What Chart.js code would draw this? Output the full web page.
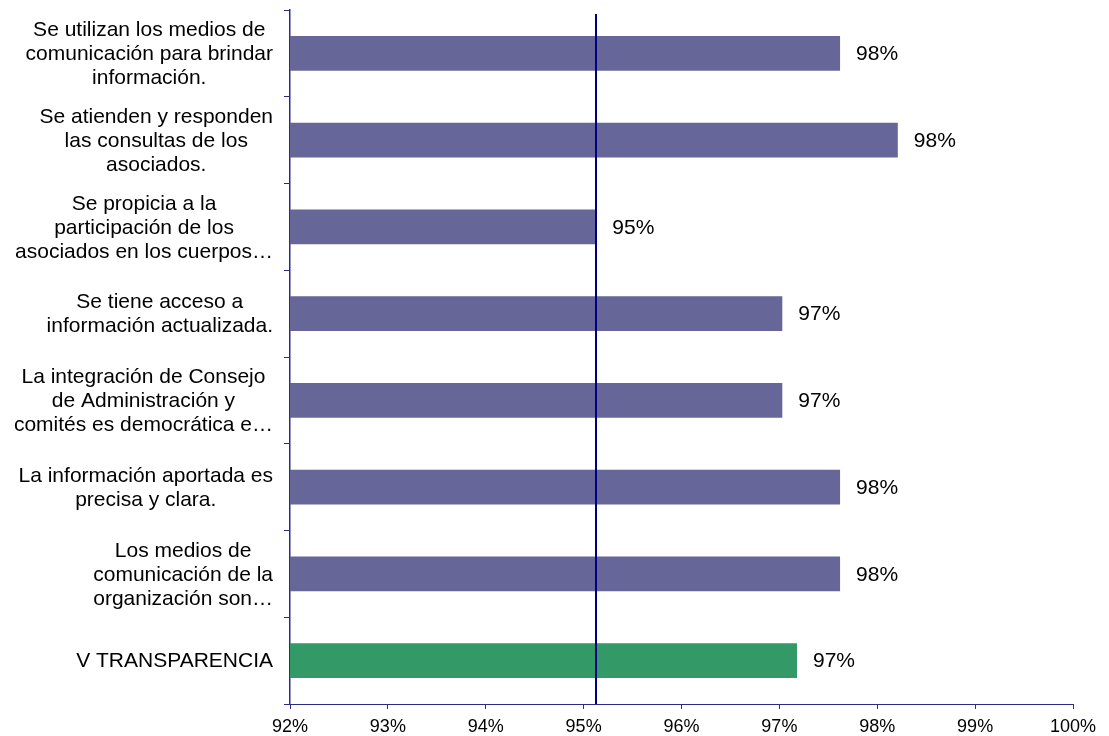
<!DOCTYPE html>
<html>
<head>
<meta charset="utf-8">
<script src="https://cdn.jsdelivr.net/npm/chart.js@4.4.0/dist/chart.umd.min.js"></script>
<style>
    html, body { margin: 0; padding: 0; background: #ffffff; }
    #chart-box { width: 1109px; height: 736px; }
</style>
</head>
<body>
<div id="chart-box"><canvas id="transparency-chart"></canvas></div>
<script>
let category_labels = [
    ["Se utilizan los medios de", "comunicación para brindar", "información."],
    ["Se atienden y responden", "las consultas de los", "asociados."],
    ["Se propicia a la", "participación de los", "asociados en los cuerpos…"],
    ["Se tiene acceso a", "información actualizada."],
    ["La integración de Consejo", "de Administración y", "comités es democrática e…"],
    ["La información aportada es", "precisa y clara."],
    ["Los medios de", "comunicación de la", "organización son…"],
    ["V TRANSPARENCIA"]
];
let bar_values = [97.62, 98.21, 95.13, 97.03, 97.03, 97.62, 97.62, 97.18];
let bar_colors = ['#666699', '#666699', '#666699', '#666699', '#666699', '#666699', '#666699', '#339966'];
let reference_value = 95.13;
let x_min = 92;
let x_max = 100;

let axis_color = '#2b2b8c';
let font_family = '"Liberation Sans", Arial, sans-serif';

// y labels: each block right aligned, lines centered inside the block
let label_plugin = {
    id: 'block_labels',
    afterDraw(chart) {
        let ctx = chart.ctx;
        let y_scale = chart.scales.y;
        let right_edge = 273;
        let line_height = 24;
        ctx.save();
        ctx.font = '21px ' + font_family;
        ctx.fillStyle = '#000000';
        ctx.textAlign = 'center';
        ctx.textBaseline = 'middle';
        category_labels.forEach((lines, i) => {
            let widest = Math.max(...lines.map(l => ctx.measureText(l).width));
            let cx = right_edge - widest / 2;
            let cy = y_scale.getPixelForValue(i) + 1;
            let top = cy - (lines.length - 1) * line_height / 2;
            lines.forEach((line, k) => {
                ctx.fillText(line, cx, top + k * line_height);
            });
        });
        ctx.restore();
    }
};

// value labels at the end of each bar + the reference line
let value_plugin = {
    id: 'value_labels',
    afterDatasetsDraw(chart) {
        let ctx = chart.ctx;
        let meta = chart.getDatasetMeta(0);
        ctx.save();
        ctx.font = '21px ' + font_family;
        ctx.fillStyle = '#000000';
        ctx.textAlign = 'left';
        ctx.textBaseline = 'middle';
        meta.data.forEach((bar, i) => {
            ctx.fillText(Math.round(bar_values[i]) + '%', bar.x + 16, bar.y + 1);
        });

        let x = Math.round(chart.scales.x.getPixelForValue(reference_value));
        let area = chart.chartArea;
        ctx.strokeStyle = '#000080';
        ctx.lineWidth = 2;
        ctx.beginPath();
        ctx.moveTo(x, area.top + 4);
        ctx.lineTo(x, area.bottom);
        ctx.stroke();
        ctx.restore();
    }
};

document.addEventListener("DOMContentLoaded", () => {
    let ctx = document.getElementById('transparency-chart');
    new Chart(ctx, {
        type: 'bar',
        data: {
            labels: category_labels,
            datasets: [{
                data: bar_values,
                backgroundColor: bar_colors,
                borderWidth: 0,
                barPercentage: 0.4,
                categoryPercentage: 1.0,
            }]
        },
        options: {
            indexAxis: 'y',
            responsive: true,
            maintainAspectRatio: false,
            animation: false,
            layout: {
                padding: { top: 10, right: 36, bottom: 0, left: 0 }
            },
            plugins: {
                legend: { display: false },
                tooltip: { enabled: false },
            },
            scales: {
                x: {
                    min: x_min,
                    max: x_max,
                    ticks: {
                        stepSize: 1,
                        color: '#000000',
                        padding: 7,
                        font: { family: font_family, size: 18 },
                        callback: (v) => v + '%',
                    },
                    grid: {
                        drawOnChartArea: false,
                        drawTicks: true,
                        tickLength: 5,
                        color: axis_color,
                    },
                    border: { color: axis_color, width: 1 },
                    afterFit: (scale) => { scale.height = 32; },
                },
                y: {
                    ticks: { display: false },
                    grid: {
                        drawOnChartArea: false,
                        drawTicks: true,
                        tickLength: 6,
                        offset: true,
                        color: axis_color,
                    },
                    border: { color: axis_color, width: 1.5 },
                    afterFit: (scale) => { scale.width = 290; },
                }
            }
        },
        plugins: [label_plugin, value_plugin]
    });
});
</script>
</body>
</html>
